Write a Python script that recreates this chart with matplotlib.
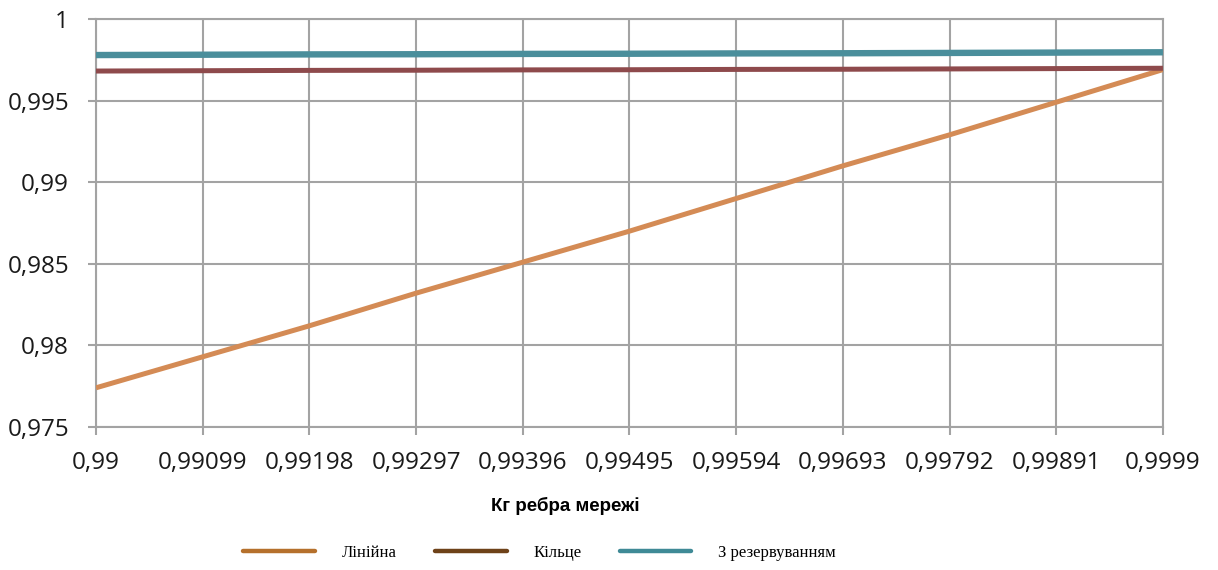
import matplotlib
matplotlib.use("Agg")
import matplotlib.pyplot as plt
from matplotlib.lines import Line2D

# Edge availability coefficient (category axis)
x_labels = ["0,99", "0,99099", "0,99198", "0,99297", "0,99396", "0,99495",
            "0,99594", "0,99693", "0,99792", "0,99891", "0,9999"]

# Network availability for each topology
linear = [0.9774, 0.9793, 0.9812, 0.9832, 0.9851, 0.9870,
          0.9890, 0.9910, 0.9929, 0.9949, 0.9969]
ring = [0.99681, 0.99683, 0.99685, 0.99686, 0.99688, 0.99689,
        0.99691, 0.99692, 0.99694, 0.99696, 0.99698]
redundant = [0.99779, 0.99781, 0.99783, 0.99784, 0.99786, 0.99787,
             0.99789, 0.99790, 0.99792, 0.99794, 0.99796]

y_ticks = [0.975, 0.98, 0.985, 0.99, 0.995, 1.0]
y_tick_labels = ["0,975", "0,98", "0,985", "0,99", "0,995", "1"]

series_names = ["Лінійна", "Кільце", "З резервуванням"]
line_colors = ["#D48B55", "#8E4A4C", "#4A8E9B"]
legend_colors = ["#B5702C", "#6E4219", "#3F8A96"]

fig = plt.figure(figsize=(12.18, 5.70), dpi=100)
ax = fig.add_axes([0.0788, 0.2509, 0.876, 0.7158])

pos = list(range(len(x_labels)))
ax.plot(pos, linear, color=line_colors[0], lw=3.6, solid_capstyle="butt", zorder=3)
ax.plot(pos, ring, color=line_colors[1], lw=3.6, solid_capstyle="butt", zorder=4)
ax.plot(pos, redundant, color=line_colors[2], lw=4.6, solid_capstyle="butt", zorder=5)

ax.set_xlim(0, len(x_labels) - 1)
ax.set_ylim(0.975, 1.0)
ax.set_xticks(pos)
ax.set_xticklabels(x_labels)
ax.set_yticks(y_ticks)
ax.set_yticklabels(y_tick_labels)

grid_color = "#A3A3A3"
ax.grid(True, color=grid_color, lw=1.5, zorder=1)
for s in ax.spines.values():
    s.set_color(grid_color)
    s.set_linewidth(1.5)
ax.tick_params(axis="both", colors=grid_color, length=6, width=1.5,
               labelcolor="#1a1a1a", labelsize=17.5)
ax.tick_params(axis="y", pad=13.5)
ax.tick_params(axis="x", pad=11)
for lbl in ax.get_xticklabels() + ax.get_yticklabels():
    lbl.set_family("Open Sans")

ax.set_xlabel("Кг ребра мережі", fontsize=13.5, fontweight="bold",
              family="Liberation Sans")
ax.xaxis.set_label_coords(0.44, -0.172)

handles = [Line2D([], [], color=c, lw=3.2, solid_capstyle="round") for c in legend_colors]
fig.legend(handles, series_names, loc="center", bbox_to_anchor=(0.443, 0.030),
           ncol=3, frameon=False, handlelength=4.3, columnspacing=2.3,
           handletextpad=1.6,
           prop={"family": "Liberation Serif", "size": 12})

fig.savefig("out.png", dpi=100, facecolor="white")
